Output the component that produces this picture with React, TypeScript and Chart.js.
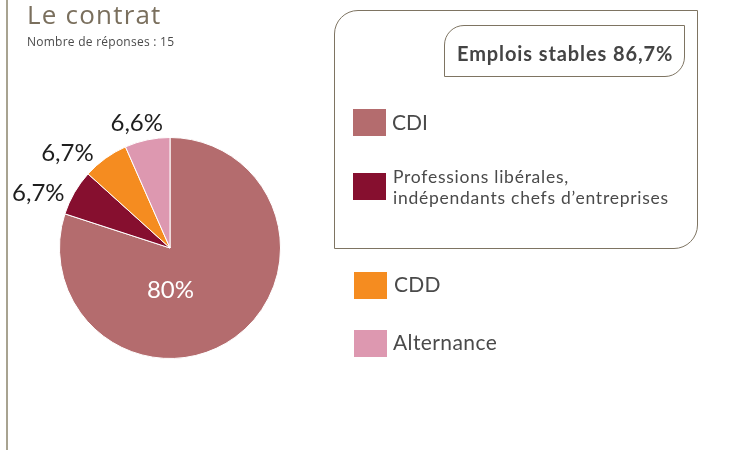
import React, { useEffect, useRef } from "react";
import { Chart, registerables } from "chart.js";

Chart.register(...registerables);

// ---- data ----
const titleText = "Le contrat";
const subtitleText = "Nombre de réponses : 15";
const categories = ["CDI", "Professions libérales,\nindépendants chefs d’entreprises", "CDD", "Alternance"];
const shares = [80, 6.7, 6.7, 6.6];
const valueLabels = ["80%", "6,7%", "6,7%", "6,6%"];
const sliceColors = ["#b46c6e", "#860f2f", "#f58c20", "#dd98b0"];
const stableIdx = [0, 1];
const stableLabel = "Emplois stables";

// ---- styles ----
const FRAME = "#7e7462";
const TEXT = "#4a4a4a";
const labelNudges: [number, number][] = [[-32, -3], [-17, 11], [-25, 12], [-6, 4]];

const fmtPct = (v: number) => v.toFixed(1).replace(".", ",") + "%";

const sliceLabelPlugin = {
  id: "sliceLabels",
  afterDatasetsDraw(chart: any) {
    const ctx = chart.ctx;
    const meta = chart.getDatasetMeta(0);
    meta.data.forEach((arc: any, i: number) => {
      const p = arc.getProps(["x", "y", "startAngle", "endAngle", "outerRadius"], true);
      const mid = (p.startAngle + p.endAngle) / 2;
      const inside = shares[i] >= 25;
      const dist = inside ? p.outerRadius * 0.5 : p.outerRadius + 22;
      const [nx, ny] = labelNudges[i];
      const cx = p.x + Math.cos(mid) * dist + nx;
      const cy = p.y + Math.sin(mid) * dist + ny;
      const fs = 24;
      ctx.save();
      ctx.font = `${fs}px Lato`;
      ctx.fillStyle = inside ? "#ffffff" : "#1e1e1e";
      ctx.textAlign = "center";
      ctx.textBaseline = "alphabetic";
      ctx.fillText(valueLabels[i], cx, cy + (fs * 0.7165) / 2);
      ctx.restore();
    });
  },
};

function LegendItem({ i, top, left, textLeft, fontSize, baseline, spacing = 0 }: any) {
  const lines = categories[i].split("\n");
  const lh = fontSize < 19 ? 21.7 : fontSize * 1.2;
  return (
    <>
      <div
        style={{
          position: "absolute",
          left,
          top,
          width: 33,
          height: 27,
          background: sliceColors[i],
        }}
      />
      <div
        style={{
          position: "absolute",
          left: textLeft,
          top: baseline - 0.987 * fontSize - (lh - 1.2 * fontSize) / 2,
          fontFamily: "Lato",
          fontSize,
          lineHeight: lh + "px",
          letterSpacing: spacing,
          color: TEXT,
          whiteSpace: "pre",
        }}
      >
        {lines.join("\n")}
      </div>
    </>
  );
}

export default function App() {
  const canvasRef = useRef<HTMLCanvasElement | null>(null);

  useEffect(() => {
    const canvas = canvasRef.current;
    if (!canvas) return;
    const chart = new Chart(canvas, {
      type: "pie",
      data: {
        labels: categories,
        datasets: [
          {
            data: shares,
            backgroundColor: sliceColors,
            borderColor: "#ffffff",
            borderWidth: 1,
          },
        ],
      },
      options: {
        responsive: false,
        animation: false,
        layout: { padding: { left: 59, top: 137, right: 460, bottom: 91 } },
        plugins: {
          legend: { display: false },
          tooltip: { enabled: false },
          title: { display: false },
        },
      },
      plugins: [sliceLabelPlugin],
    });
    return () => chart.destroy();
  }, []);

  const stableTotal = stableIdx.reduce((s, i) => s + shares[i], 0);

  return (
    <div
      style={{
        position: "absolute",
        left: 0,
        top: 0,
        width: 741,
        height: 450,
        background: "#ffffff",
        overflow: "hidden",
      }}
    >
      <canvas ref={canvasRef} width={741} height={450} style={{ position: "absolute", left: 0, top: 0 }} />
      <div style={{ position: "absolute", left: 6, top: 0, width: 1.5, height: 450, background: "#a8a391" }} />
      <div
        style={{
          position: "absolute",
          left: 27,
          top: 24.5 - 1.069 * 26,
          fontFamily: "'Open Sans'",
          fontSize: 26,
          lineHeight: 1.362,
          letterSpacing: 1.2,
          color: "#7a6f5d",
          whiteSpace: "pre",
        }}
      >
        {titleText}
      </div>
      <div
        style={{
          position: "absolute",
          left: 27,
          top: 46.7 - 1.069 * 12,
          fontFamily: "'Open Sans'",
          fontSize: 12,
          lineHeight: 1.362,
          letterSpacing: 0.25,
          color: TEXT,
          whiteSpace: "pre",
        }}
      >
        {subtitleText}
      </div>
      <div
        style={{
          position: "absolute",
          left: 334,
          top: 10,
          width: 364,
          height: 239,
          boxSizing: "border-box",
          border: `1.5px solid ${FRAME}`,
          borderRadius: "24px 0 24px 0",
        }}
      />
      <div
        style={{
          position: "absolute",
          left: 444,
          top: 25,
          width: 241,
          height: 52,
          boxSizing: "border-box",
          border: `1.5px solid ${FRAME}`,
          borderRadius: "20px 0 20px 0",
        }}
      />
      <div
        style={{
          position: "absolute",
          left: 457,
          top: 61 - 0.987 * 20,
          fontFamily: "Lato",
          fontWeight: 700,
          fontSize: 20,
          lineHeight: 1.2,
          letterSpacing: 0.9,
          color: "#444444",
          whiteSpace: "pre",
        }}
      >
        {`${stableLabel} ${fmtPct(stableTotal)}`}
      </div>
      <LegendItem i={0} left={353} top={109} textLeft={392} fontSize={21} baseline={130} />
      <LegendItem i={1} left={353} top={173} textLeft={393} fontSize={17.5} baseline={183.3} spacing={0.75} />
      <LegendItem i={2} left={354} top={272} textLeft={394} fontSize={21} baseline={291.7} spacing={0.3} />
      <LegendItem i={3} left={354} top={330} textLeft={393} fontSize={21} baseline={350} spacing={0.4} />
    </div>
  );
}
